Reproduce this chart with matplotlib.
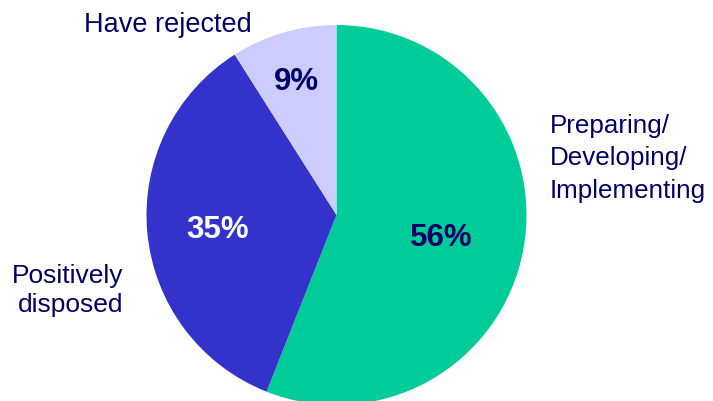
import numpy as np
import matplotlib.pyplot as plt

# slice data, clockwise from 12 o'clock
labels = ['Preparing/\nDeveloping/\nImplementing', 'Positively\ndisposed', 'Have rejected']
shares = [56, 35, 9]
colors = ['#00CC99', '#3333CC', '#CCCCFF']
pct_colors = ['#000066', 'white', '#000066']
pct_dist = [0.56, 0.63, 0.75]

NAVY = '#000066'
plt.rcParams['font.family'] = ['Liberation Sans', 'DejaVu Sans']

fig = plt.figure(figsize=(7.13, 4.01), dpi=100)
ax = fig.add_axes([0, 0, 1, 1])

wedges, _, autotexts = ax.pie(shares, colors=colors, startangle=90, counterclock=False,
                              center=(336.5, 186), radius=190,
                              autopct='%d%%', wedgeprops={'linewidth': 0},
                              labeldistance=None)

# move the percent labels along each wedge's bisector
for w, t, d, c in zip(wedges, autotexts, pct_dist, pct_colors):
    ang = np.deg2rad((w.theta1 + w.theta2) / 2)
    t.set_position((w.center[0] + d * w.r * np.cos(ang),
                    w.center[1] + d * w.r * np.sin(ang)))
    t.set_color(c)
    t.set_fontsize(22.5)
    t.set_fontweight('bold')
    t.set_va('center_baseline')

# baseline of the last line is the anchor for multi-line text
ax.text(550, 203, labels[0], fontsize=18.7, color=NAVY, ha='left', va='baseline', linespacing=1.46)
ax.text(123, 88.7, labels[1], fontsize=19, color=NAVY, ha='right', va='baseline',
        multialignment='right', linespacing=1.26)
ax.text(84, 369.3, labels[2], fontsize=19.5, color=NAVY, ha='left', va='baseline')

ax.set_xlim(0, 713)
ax.set_ylim(0, 401)
ax.axis('off')

fig.savefig('out.png', dpi=100)
